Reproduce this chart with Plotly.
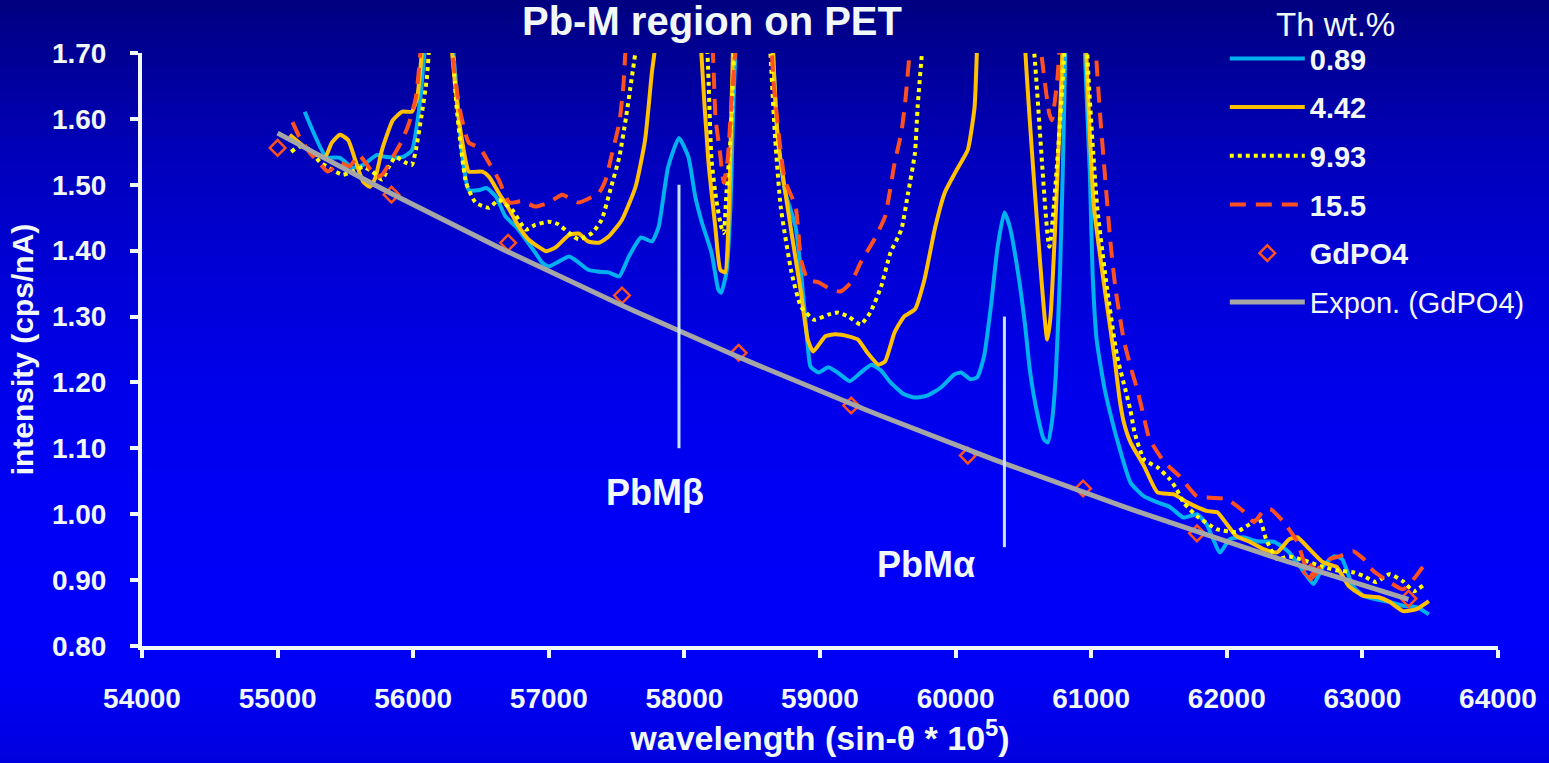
import numpy as np
import plotly.graph_objects as go

# ---------------- data ----------------
th089_x = [55200, 55360, 55460, 55550, 55630, 55730, 55800, 55920, 55990, 56040, 56070, 56090,
           56190, 56290, 56320, 56360, 56410, 56490, 56540, 56610, 56680, 56760, 56830, 56900,
           56950, 57000, 57070, 57150, 57220, 57290, 57370, 57440, 57520, 57590, 57680, 57760,
           57810, 57880, 57960, 58030, 58080, 58130, 58200, 58250, 58270, 58310, 58340, 58360,
           58380, 58510, 58650, 58690, 58740, 58820, 58860, 58910, 58930, 58990, 59060, 59130,
           59220, 59300, 59380, 59450, 59520, 59620, 59700, 59790, 59890, 59990, 60040, 60110,
           60160, 60210, 60260, 60310, 60360, 60400, 60460, 60510, 60550, 60600, 60650, 60680,
           60710, 60740, 60770, 60790, 60810, 60870, 60950, 60990, 61010, 61040, 61100, 61170,
           61190, 61290, 61390, 61490, 61580, 61680, 61780, 61850, 61950, 62020, 62120, 62220,
           62350, 62460, 62570, 62640, 62710, 62790, 62850, 62930, 63010, 63100, 63200, 63300,
           63400, 63490]
th089_y = [1.611, 1.542, 1.541, 1.526, 1.530, 1.545, 1.542, 1.542, 1.552, 1.609, 1.670, 1.720,
           2.600, 1.720, 1.644, 1.548, 1.492, 1.492, 1.495, 1.482, 1.452, 1.436, 1.417, 1.397,
           1.382, 1.376, 1.383, 1.391, 1.382, 1.371, 1.368, 1.367, 1.361, 1.391, 1.420, 1.414,
           1.436, 1.527, 1.571, 1.542, 1.482, 1.442, 1.397, 1.341, 1.336, 1.367, 1.467, 1.618,
           1.720, 2.600, 1.720, 1.568, 1.492, 1.436, 1.367, 1.255, 1.224, 1.215, 1.223, 1.215,
           1.202, 1.215, 1.227, 1.218, 1.200, 1.182, 1.177, 1.180, 1.192, 1.212, 1.215, 1.205,
           1.208, 1.240, 1.315, 1.406, 1.458, 1.436, 1.367, 1.291, 1.215, 1.155, 1.114, 1.109,
           1.140, 1.215, 1.367, 1.518, 1.720, 2.600, 1.720, 1.518, 1.367, 1.265, 1.189, 1.129,
           1.114, 1.048, 1.027, 1.018, 1.011, 0.995, 1.000, 0.985, 0.942, 0.962, 0.965, 0.959,
           0.958, 0.942, 0.912, 0.894, 0.921, 0.936, 0.932, 0.891, 0.876, 0.871, 0.867, 0.861,
           0.859, 0.848]

th442_x = [55090, 55260, 55350, 55400, 55460, 55520, 55580, 55630, 55680, 55720, 55770, 55850,
           55920, 55990, 56030, 56050, 56070, 56180, 56280, 56340, 56390, 56410, 56510, 56560,
           56630, 56710, 56780, 56850, 56930, 56980, 57050, 57150, 57220, 57290, 57370, 57440,
           57540, 57640, 57710, 57760, 57790, 57950, 58125, 58176, 58228, 58265, 58300, 58324,
           58338, 58360, 58510, 58650, 58690, 58790, 58860, 58910, 58950, 59040, 59110, 59210,
           59280, 59350, 59430, 59480, 59550, 59620, 59700, 59770, 59850, 59920, 60020, 60090,
           60140, 60160, 60340, 60515, 60676, 60700, 60787, 60870, 60960, 61020, 61100, 61170,
           61210, 61240, 61290, 61390, 61490, 61610, 61710, 61850, 61930, 62000, 62070, 62170,
           62270, 62370, 62460, 62520, 62610, 62710, 62810, 62900, 63010, 63120, 63200, 63300,
           63400, 63490]
th442_y = [1.576, 1.548, 1.542, 1.564, 1.576, 1.568, 1.533, 1.505, 1.497, 1.510, 1.553, 1.598,
           1.611, 1.611, 1.633, 1.670, 1.720, 2.600, 1.720, 1.594, 1.533, 1.520, 1.520, 1.512,
           1.488, 1.462, 1.436, 1.417, 1.405, 1.399, 1.405, 1.424, 1.426, 1.414, 1.412, 1.421,
           1.447, 1.497, 1.568, 1.670, 1.720, 2.600, 1.700, 1.538, 1.436, 1.371, 1.367, 1.436,
           1.538, 1.720, 2.600, 1.720, 1.568, 1.427, 1.336, 1.265, 1.247, 1.270, 1.273, 1.270,
           1.265, 1.245, 1.227, 1.232, 1.276, 1.300, 1.311, 1.356, 1.436, 1.488, 1.527, 1.553,
           1.618, 1.720, 2.600, 1.700, 1.265, 1.300, 1.700, 2.600, 1.720, 1.467, 1.341, 1.240,
           1.174, 1.140, 1.109, 1.073, 1.033, 1.030, 1.018, 1.005, 1.003, 0.985, 0.967, 0.958,
           0.947, 0.942, 0.962, 0.965, 0.947, 0.927, 0.920, 0.891, 0.876, 0.874, 0.867, 0.853,
           0.856, 0.868]

th993_x = [55100, 55160, 55240, 55310, 55400, 55480, 55550, 55630, 55700, 55770, 55820, 55870,
           55950, 55990, 56020, 56060, 56100, 56120, 56200, 56290, 56320, 56390, 56460, 56560,
           56630, 56730, 56830, 56900, 57000, 57070, 57150, 57220, 57320, 57390, 57460, 57520,
           57570, 57610, 57650, 57900, 58170, 58200, 58235, 58272, 58290, 58310, 58338, 58355,
           58370, 58500, 58630, 58670, 58710, 58790, 58860, 58960, 59060, 59130, 59210, 59300,
           59370, 59450, 59520, 59600, 59650, 59700, 59720, 59760, 60150, 60580, 60691, 60801,
           60880, 60971, 61044, 61118, 61191, 61287, 61320, 61390, 61490, 61580, 61630, 61680,
           61780, 61930, 62070, 62170, 62240, 62290, 62370, 62460, 62570, 62710, 62810, 62930,
           63010, 63100, 63200, 63300, 63380, 63460]
th993_y = [1.550, 1.558, 1.553, 1.535, 1.523, 1.515, 1.520, 1.527, 1.520, 1.508, 1.527, 1.542,
           1.533, 1.530, 1.553, 1.603, 1.660, 1.720, 2.600, 1.720, 1.618, 1.503, 1.473, 1.465,
           1.477, 1.462, 1.432, 1.439, 1.444, 1.440, 1.427, 1.417, 1.427, 1.447, 1.497, 1.542,
           1.603, 1.660, 1.720, 2.600, 1.700, 1.538, 1.477, 1.436, 1.427, 1.488, 1.564, 1.640,
           1.720, 2.600, 1.720, 1.568, 1.467, 1.367, 1.315, 1.295, 1.303, 1.306, 1.300, 1.288,
           1.306, 1.345, 1.397, 1.432, 1.488, 1.548, 1.618, 1.720, 2.600, 1.700, 1.406, 1.700,
           2.600, 1.700, 1.467, 1.341, 1.240, 1.160, 1.124, 1.083, 1.071, 1.053, 1.038, 1.018,
           0.997, 0.977, 0.973, 0.985, 0.993, 0.962, 0.932, 0.936, 0.930, 0.920, 0.915, 0.912,
           0.906, 0.897, 0.909, 0.898, 0.883, 0.894]

th155_x = [55110, 55160, 55240, 55310, 55370, 55460, 55530, 55600, 55650, 55730, 55770, 55850,
           55920, 55970, 56020, 56060, 56170, 56280, 56340, 56410, 56490, 56560, 56630, 56710,
           56800, 56900, 57000, 57100, 57220, 57370, 57420, 57460, 57520, 57550, 57570, 57900,
           58210, 58230, 58260, 58290, 58320, 58345, 58380, 58510, 58640, 58660, 58740, 58820,
           58840, 58860, 58910, 58990, 59080, 59150, 59230, 59300, 59400, 59480, 59550, 59600,
           59630, 59670, 60150, 60620, 60690, 60710, 60750, 60770, 60900, 61030, 61070, 61100,
           61140, 61180, 61240, 61290, 61340, 61390, 61430, 61540, 61650, 61780, 61880, 62000,
           62120, 62200, 62270, 62320, 62420, 62520, 62610, 62660, 62760, 62830, 62930, 63010,
           63080, 63200, 63300, 63380, 63450, 63490]
th155_y = [1.595, 1.573, 1.548, 1.533, 1.520, 1.533, 1.528, 1.545, 1.533, 1.512, 1.515, 1.542,
           1.568, 1.594, 1.633, 1.720, 2.600, 1.720, 1.618, 1.564, 1.556, 1.533, 1.508, 1.473,
           1.475, 1.467, 1.473, 1.485, 1.473, 1.488, 1.508, 1.542, 1.594, 1.650, 1.720, 2.600,
           1.700, 1.600, 1.553, 1.503, 1.540, 1.620, 1.720, 2.600, 1.720, 1.650, 1.508, 1.467,
           1.430, 1.386, 1.356, 1.352, 1.341, 1.338, 1.352, 1.382, 1.417, 1.452, 1.533, 1.579,
           1.629, 1.720, 2.600, 1.720, 1.609, 1.598, 1.660, 1.720, 2.600, 1.720, 1.594, 1.518,
           1.417, 1.341, 1.265, 1.224, 1.189, 1.146, 1.114, 1.079, 1.058, 1.027, 1.025, 1.023,
           1.005, 0.988, 1.005, 1.008, 0.988, 0.958, 0.906, 0.915, 0.932, 0.936, 0.944, 0.932,
           0.914, 0.897, 0.886, 0.902, 0.921, 0.929]

gd_x = [55000, 55840, 56700, 57540, 58400, 59230, 60090, 60940, 61780, 62620, 63340]
gd_y = [1.556, 1.485, 1.412, 1.332, 1.245, 1.165, 1.089, 1.039, 0.971, 0.912, 0.872]

x_ticks = [54000, 55000, 56000, 57000, 58000, 59000, 60000, 61000, 62000, 63000, 64000]
y_ticks = [0.80, 0.90, 1.00, 1.10, 1.20, 1.30, 1.40, 1.50, 1.60, 1.70]

series_names = ["0.89", "4.42", "9.93", "15.5"]
peak_labels = ["PbM\u03b2", "PbM\u03b1"]
peak_pos = [57960, 60360]
peak_y0 = [1.10, 0.95]
peak_y1 = [1.50, 1.30]
label_pos_x = [57780, 59780]
label_pos_y = [1.033, 0.924]

# exponential trendline of GdPO4 (least squares on log values, as Excel does)
b, lna = np.polyfit(np.array(gd_x, float), np.log(np.array(gd_y, float)), 1)
fit_x = np.linspace(min(gd_x), max(gd_x), 80)
fit_y = np.exp(lna + b * fit_x)

# ---------------- figure ----------------
W, H = 1549, 763
ML, MR, MT, MB = 142, 47, 53, 116
FONT = "Liberation Sans, Arial, sans-serif"
WHITE = "#F2F8F8"

fig = go.Figure()

styles = [
    dict(color="#00B0F0", width=4),
    dict(color="#FFC000", width=4),
    dict(color="#FFFF00", width=4, dash="dot"),
    dict(color="#FF5020", width=4, dash="16px,10px"),
]
xs = [th089_x, th442_x, th993_x, th155_x]
ys = [th089_y, th442_y, th993_y, th155_y]
for i in range(4):
    fig.add_trace(go.Scatter(
        x=xs[i], y=ys[i], mode="lines", name="<b>" + series_names[i] + "</b>",
        line=dict(shape="spline", smoothing=0.5, **styles[i]),
        legendgroup="g%d" % i))

fig.add_trace(go.Scatter(
    x=gd_x, y=gd_y, mode="markers", name="<b>GdPO4</b>",
    marker=dict(symbol="diamond-open", size=12, color="#FF5020", line=dict(width=2.5)),
    legendgroup="g4"))
fig.add_trace(go.Scatter(
    x=fit_x, y=fit_y, mode="lines", name="Expon. (GdPO4)",
    line=dict(color="#A6A6A6", width=5), legendgroup="g5"))

# background gradient (navy at top -> bright blue -> slightly darker at bottom)
stops_px = [0, 60, 150, 260, 400, 520, 640, 700, 763]
stops_b = [128, 150, 185, 212, 236, 246, 250, 240, 222]
band = 6
shapes = []
plot_h = H - MT - MB
plot_w = W - ML - MR
for top in range(0, H, band):
    mid = top + band / 2
    bl = int(round(np.interp(mid, stops_px, stops_b)))
    y0 = (H - MB - (top + band + 1)) / plot_h
    y1 = (H - MB - top) / plot_h
    shapes.append(dict(type="rect", xref="paper", yref="paper",
                       x0=-ML / plot_w - 0.01, x1=1 + MR / plot_w + 0.01, y0=y0, y1=y1,
                       fillcolor="rgb(0,0,%d)" % bl, line=dict(width=0), layer="below"))
for i in range(2):
    shapes.append(dict(type="line", xref="x", yref="y", x0=peak_pos[i], x1=peak_pos[i],
                       y0=peak_y0[i], y1=peak_y1[i],
                       line=dict(color="#C8E4F4", width=3), layer="above"))

annotations = []
for i in range(2):
    annotations.append(dict(x=label_pos_x[i], y=label_pos_y[i], xref="x", yref="y",
                            text="<b>" + peak_labels[i] + "</b>", showarrow=False,
                            font=dict(family=FONT, size=36, color=WHITE)))
# legend heading
annotations.append(dict(x=(1339 - ML) / plot_w, y=(H - MB - 24) / plot_h, xref="paper", yref="paper",
                        text="Th wt.%", showarrow=False, xanchor="center", yanchor="middle",
                        font=dict(family=FONT, size=33, color=WHITE)))

fig.update_layout(
    width=W, height=H,
    margin=dict(l=ML, r=MR, t=MT, b=MB),
    paper_bgcolor="#0000C8",
    plot_bgcolor="rgba(0,0,0,0)",
    shapes=shapes,
    annotations=annotations,
    title=dict(text="<b>Pb-M region on PET</b>", x=712 / W, xanchor="center",
               y=1 - 21 / H, yanchor="middle", yref="container",
               font=dict(family=FONT, size=40, color=WHITE)),
    font=dict(family=FONT, color=WHITE),
    showlegend=True,
    legend=dict(x=(1228 - ML) / plot_w, y=(H - MB - 33) / plot_h, xanchor="left", yanchor="top",
                bgcolor="rgba(0,0,0,0)", borderwidth=0,
                font=dict(family=FONT, size=29, color=WHITE),
                itemwidth=75, tracegroupgap=8),
    xaxis=dict(range=[54000, 64000], tickvals=x_ticks, tickformat="d",
               showline=True, linewidth=4, linecolor=WHITE, mirror=False,
               ticks="outside", ticklen=8, tickwidth=4, tickcolor=WHITE,
               showgrid=False, zeroline=False, ticklabelstandoff=16,
               tickfont=dict(family=FONT, size=28, color=WHITE, weight="bold"),
               title=dict(text="<b>wavelength (sin-\u03b8 * 10<sup>5</sup>)</b>", standoff=14,
                          font=dict(family=FONT, size=34, color=WHITE))),
    yaxis=dict(range=[0.80, 1.70], tickvals=y_ticks, tickformat=".2f",
               showline=True, linewidth=4, linecolor=WHITE,
               ticks="outside", ticklen=8, tickwidth=4, tickcolor=WHITE,
               showgrid=False, zeroline=False, ticklabelstandoff=18,
               tickfont=dict(family=FONT, size=28, color=WHITE, weight="bold"),
               title=dict(text="<b>intensity (cps/nA)</b>", standoff=10,
                          font=dict(family=FONT, size=30, color=WHITE))),
)

fig.write_html("out.html", config={"displayModeBar": False},
               post_script="document.body.style.margin='0';document.body.style.overflow='hidden';")
